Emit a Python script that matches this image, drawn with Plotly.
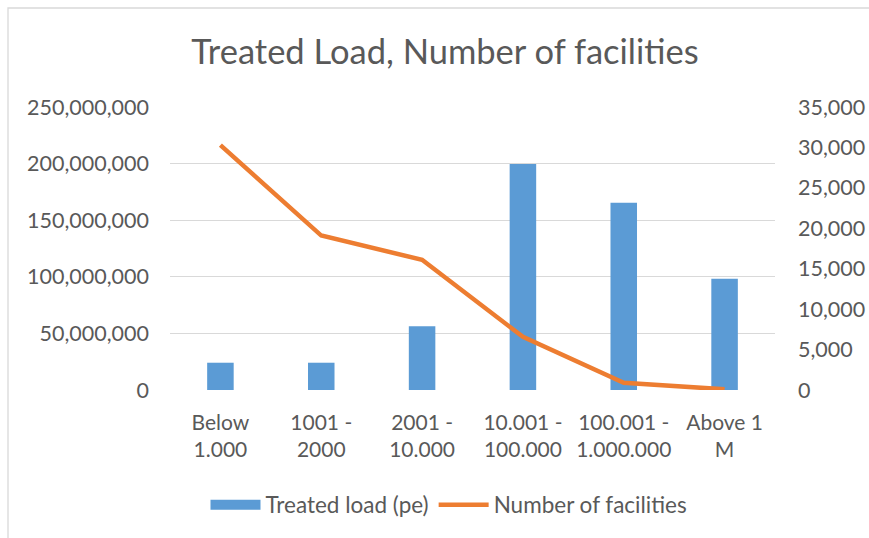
import plotly.graph_objects as go

categories = ["Below<br>1.000", "1001 -<br>2000", "2001 -<br>10.000", "10.001 -<br>100.000",
              "100.001 -<br>1.000.000", "Above 1<br>M"]
treated_load = [24_100_000, 24_100_000, 56_300_000, 199_600_000, 165_500_000, 98_300_000]
facilities = [30_280, 19_100, 16_100, 6_570, 900, 80]

left_ticks = [0, 50_000_000, 100_000_000, 150_000_000, 200_000_000, 250_000_000]
right_ticks = [0, 5000, 10000, 15000, 20000, 25000, 30000, 35000]

FONT = "Lato, Carlito, Calibri, sans-serif"
TXT = "#595959"
BLUE = "#5B9BD5"
ORANGE = "#ED7D31"

fig = go.Figure()
fig.add_trace(go.Bar(x=categories, y=treated_load, name="Treated load (pe)",
                     marker=dict(color=BLUE, line=dict(width=0)), yaxis="y", showlegend=False))
# legend-only stand-in giving the wide rectangular swatch
fig.add_trace(go.Scatter(x=[None], y=[None], name="Treated load (pe)", mode="lines",
                         line=dict(color=BLUE, width=12), yaxis="y", hoverinfo="skip"))
fig.add_trace(go.Scatter(x=categories, y=facilities, name="Number of facilities",
                         mode="lines", line=dict(color=ORANGE, width=4.5), yaxis="y2"))

W, H = 869, 538
L, R, T, B = 170, 94, 107, 148
pw, ph = W - L - R, H - T - B

def px_x(p):
    return (p - L) / pw

def px_y(p):
    return (H - B - p) / ph

fig.update_layout(
    width=W, height=H,
    margin=dict(l=L, r=R, t=T, b=B, autoexpand=False),
    paper_bgcolor="white", plot_bgcolor="white",
    font=dict(family=FONT, size=21, color=TXT),
    title=dict(text="Treated Load, Number of facilities", x=445 / W, xanchor="center",
               y=1 - 52 / H, yanchor="middle", font=dict(size=34.5, color=TXT, family=FONT)),
    bargap=0.737,
    showlegend=True,
    legend=dict(orientation="h", x=px_x(449), xanchor="center", y=px_y(505), yanchor="middle",
                font=dict(size=22.5, color=TXT), itemwidth=50, tracegroupgap=0,
                bgcolor="rgba(0,0,0,0)"),
    xaxis=dict(showgrid=False, showline=False, ticks="", tickfont=dict(size=21, color=TXT),
               tickangle=0, ticklabelstandoff=18, automargin=False),
    yaxis=dict(range=[0, 250_000_000], tickvals=left_ticks, tickformat=",d",
               showgrid=True, gridcolor="#D9D9D9", gridwidth=1.3, zeroline=False,
               showline=False, ticks="", ticklabelstandoff=20, automargin=False,
               tickfont=dict(size=21.5, color=TXT)),
    yaxis2=dict(range=[0, 35000], tickvals=right_ticks, tickformat=",d", overlaying="y",
                side="right", showgrid=False, zeroline=False, showline=False, ticks="",
                ticklabelstandoff=22, automargin=False, tickfont=dict(size=21.5, color=TXT)),
    shapes=[dict(type="rect", xref="paper", yref="paper",
                 x0=px_x(8), x1=px_x(880), y0=px_y(550), y1=px_y(8),
                 line=dict(color="#D9D9D9", width=1.3), fillcolor="rgba(0,0,0,0)", layer="below")],
)

fig.write_html("out.html", config={"displayModeBar": False})
with open("out.html", encoding="utf-8") as f:
    html = f.read()
html = html.replace("<body>", '<body style="margin:0;padding:0;overflow:hidden">', 1)
with open("out.html", "w", encoding="utf-8") as f:
    f.write(html)
